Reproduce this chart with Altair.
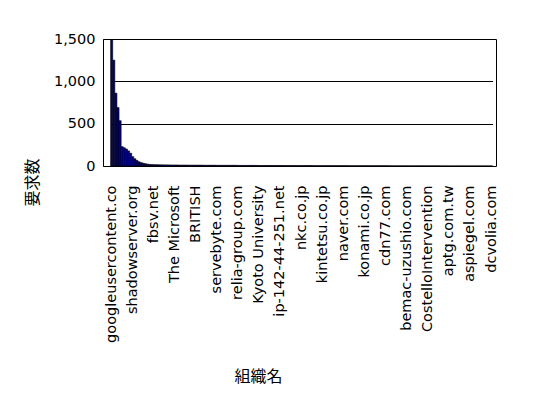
import altair as alt
import pandas as pd

# Request counts per organisation (sorted descending)
counts = [
    1495, 1250, 860, 690, 535, 228, 215, 200, 178, 150,
    110, 85, 65, 50, 40, 33, 27, 22, 19, 17,
    16, 15, 15, 14, 14, 13, 13, 13, 12, 12,
    12, 12, 11, 11, 11, 11, 11, 10, 10, 10,
    10, 10, 10, 10, 9, 9, 9, 9, 9, 9,
    8, 8, 8, 8, 8, 8, 8, 8, 8, 8,
    7, 7, 7, 7, 7, 7, 7, 7, 7, 7,
    6, 6, 6, 6, 6, 6, 6, 6, 6, 6,
    6, 6, 5, 5, 5, 5, 5, 5, 5, 5,
    5, 5, 5, 5, 5, 5, 4, 4, 4, 4,
    4, 4, 4, 4, 4, 4, 4, 4, 4, 4,
    4, 4, 3, 3, 3, 3, 3, 3, 3, 3,
    3, 3, 3, 3, 3, 3, 3, 3, 3, 3,
    3, 3, 2, 2, 2, 2, 2, 2, 2, 2,
    2, 2, 2, 2, 2, 2, 2, 2, 2, 2,
    2, 2, 2, 2, 2, 2, 1, 1, 1, 1,
    1, 1, 1, 1, 1, 1, 1, 1, 1, 1,
    1, 1, 1, 1, 1, 1, 1, 1, 1, 1,
    1,
]

# Organisation names shown on the axis (every 10th category)
shown_labels = [
    "googleusercontent.co", "shadowserver.org", "fbsv.net", "The Microsoft",
    "BRITISH", "servebyte.com", "relia-group.com", "Kyoto University",
    "ip-142-44-251.net", "nkc.co.jp", "kintetsu.co.jp", "naver.com",
    "konami.co.jp", "cdn77.com", "bemac-uzushio.com", "CostelloIntervention",
    "aptg.com.tw", "aspiegel.com", "dcvolia.com",
]
label_every = 10

idx = list(range(len(counts)))
df = pd.DataFrame({"idx": idx, "count": counts})

tick_values = [i * label_every for i in range(len(shown_labels))]
label_js = "[" + ",".join("'" + s + "'" for s in shown_labels) + "]"
label_expr = f"{label_js}[round(datum.value / {label_every})]"

LAT = "DejaVu Sans"
CJK = "Noto Sans CJK JP"

chart = (
    alt.Chart(df)
    .mark_bar(fill="#000080", stroke="black", strokeWidth=0.6)
    .encode(
        x=alt.X(
            "idx:O",
            scale=alt.Scale(paddingInner=0, paddingOuter=0, range=[7.6, 389.6]),
            axis=alt.Axis(
                title="組織名",
                values=tick_values,
                labelExpr=label_expr,
                labelAngle=-90,
                labelOverlap=False,
                ticks=False,
                domain=False,
                labelPadding=19,
                labelFont=LAT,
                labelFontSize=14.5,
                labelColor="black",
                titleFont=CJK,
                titleFontSize=16,
                titleFontWeight="normal",
                titleColor="black",
                titleX=155,
                titleY=210,
                titleBaseline="middle",
                titleAlign="center",
            ),
        ),
        y=alt.Y(
            "count:Q",
            scale=alt.Scale(domain=[0, 1500]),
            axis=alt.Axis(
                title="要求数",
                values=[0, 500, 1000, 1500],
                format=",d",
                ticks=False,
                domain=True,
                domainColor="black",
                grid=True,
                gridColor="black",
                gridWidth=1,
                gridOpacity=1,
                labelPadding=8,
                labelFont=LAT,
                labelFontSize=14.5,
                labelColor="black",
                titleFont=CJK,
                titleFontSize=16,
                titleFontWeight="normal",
                titleColor="black",
                titleX=-71,
                titleY=143,
                titleBaseline="middle",
                titleAlign="center",
            ),
        ),
        tooltip=["idx:O", "count:Q"],
    )
    .properties(
        width=393,
        height=127,
        autosize=alt.AutoSizeParams(type="none"),
        padding={"left": 95, "top": 31, "right": 44, "bottom": 224},
        background="white",
    )
    .configure_view(stroke="black", strokeWidth=1)
)

chart.save("out.html", embed_options={"renderer": "svg", "actions": False})
